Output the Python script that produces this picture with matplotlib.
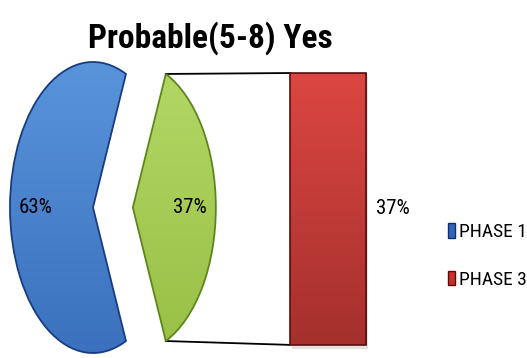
import matplotlib
matplotlib.use("Agg")
import matplotlib.pyplot as plt
import numpy as np
from matplotlib.patches import Patch, Rectangle
from matplotlib.colors import LinearSegmentedColormap

plt.rcParams['font.family'] = ['Liberation Sans Narrow', 'Roboto Condensed',
                               'Open Sans Condensed', 'DejaVu Sans']
plt.rcParams['font.stretch'] = 'condensed'

# ---- data ----
title = 'Probable(5-8) Yes'
pie_categories = ['PHASE 1', 'Other']
pie_values = [63, 37]
bar_categories = ['PHASE 3']
bar_values = [37]
legend_labels = ['PHASE 1', 'PHASE 3']

# ---- style ----
blue_light, blue_dark, blue_edge = '#5a95dc', '#3a70bd', '#183c82'
green_light, green_dark, green_edge = '#b4d867', '#98bf45', '#5d861c'
red_top, red_bottom, red_edge = '#dc4642', '#a5302c', '#5a0e0e'

fig = plt.figure(figsize=(5.27, 3.58), dpi=100)
ax = fig.add_axes([0, 0, 1, 1])


def fill_gradient(patch, c_low, c_high, extent, zorder):
    """Paint a vertical colour ramp inside a patch."""
    cmap = LinearSegmentedColormap.from_list('ramp', [c_low, c_high])
    ramp = np.linspace(0, 1, 128).reshape(-1, 1)
    im = ax.imshow(ramp, cmap=cmap, origin='lower', aspect='auto',
                   extent=extent, zorder=zorder)
    im.set_clip_path(patch)
    patch.set_facecolor('none')
    patch.set_zorder(zorder + 0.5)


# pie: the "other" slice faces the bar and is pulled out towards it
total = sum(pie_values)
start = pie_values[1] / total * 180.0
wedges, texts, autotexts = ax.pie(
    pie_values, colors=[blue_dark, green_dark], startangle=start,
    explode=[0, 0.48], autopct='%1.0f%%', pctdistance=0.69,
    textprops=dict(fontsize=15, color='black'))
for w, ec, lo, hi in zip(wedges, [blue_edge, green_edge],
                         [blue_dark, green_dark], [blue_light, green_light]):
    w.set_edgecolor(ec)
    w.set_linewidth(1.3)
    cx, cy = w.center
    fill_gradient(w, lo, hi, (cx - 1.05, cx + 1.05, cy - 1.05, cy + 1.05), 2)
for t in autotexts:
    t.set_zorder(5)

# stacked bar breaking down the pulled-out slice
bar_x, bar_w = 2.831, 0.916
bar_scale = 0.0505
bar_h = bar_values[0] * bar_scale
bar_bottom = -bar_h / 2 - 0.01
ax.add_patch(Rectangle((bar_x - bar_w / 2 + 0.03, bar_bottom - 0.03), bar_w, bar_h,
                       facecolor='#b0b0b0', alpha=0.35, edgecolor='none', zorder=1))
bars = ax.bar([bar_x], [bar_h], width=bar_w, bottom=bar_bottom,
              color=red_top, edgecolor=red_edge, linewidth=1.2, zorder=3)
rect = bars.patches[0]
fill_gradient(rect, red_bottom, red_top,
              (bar_x - bar_w / 2, bar_x + bar_w / 2, bar_bottom, bar_bottom + bar_h), 3)
ax.text(bar_x + bar_w / 2 + 0.12, bar_bottom + bar_h / 2,
        f'{bar_values[0]}%', ha='left', va='center', fontsize=15)

# connector lines from the pulled-out slice to the bar
g = wedges[1]
cx, cy = g.center
r = g.r
top = (cx + r * np.cos(np.radians(g.theta2)), cy + r * np.sin(np.radians(g.theta2)))
bot = (cx + r * np.cos(np.radians(g.theta1)), cy + r * np.sin(np.radians(g.theta1)))
bar_left = bar_x - bar_w / 2
ax.plot([top[0], bar_left], [top[1], bar_bottom + bar_h], color='black', lw=1.3, zorder=2)
ax.plot([bot[0], bar_left], [bot[1], bar_bottom], color='black', lw=1.3, zorder=2)

ax.set_aspect('auto')
ax.set_xlim(-1.1205, 5.229)
ax.set_ylim(-1.0344, 1.4261)
ax.axis('off')

fig.text(0.40, 0.866, title, ha='center', va='baseline',
         fontsize=24, fontweight='bold')

handles = [Patch(facecolor='#2f66b8', edgecolor='#10306a'),
           Patch(facecolor='#c8302c', edgecolor='#600808')]
fig.legend(handles, legend_labels, loc='center left',
           bbox_to_anchor=(448 / 527, 1 - 256 / 358), frameon=False,
           fontsize=14, handlelength=0.35, handleheight=0.8,
           handletextpad=0.2, labelspacing=1.5, borderpad=0,
           borderaxespad=0)

fig.savefig('out.png', dpi=100)
